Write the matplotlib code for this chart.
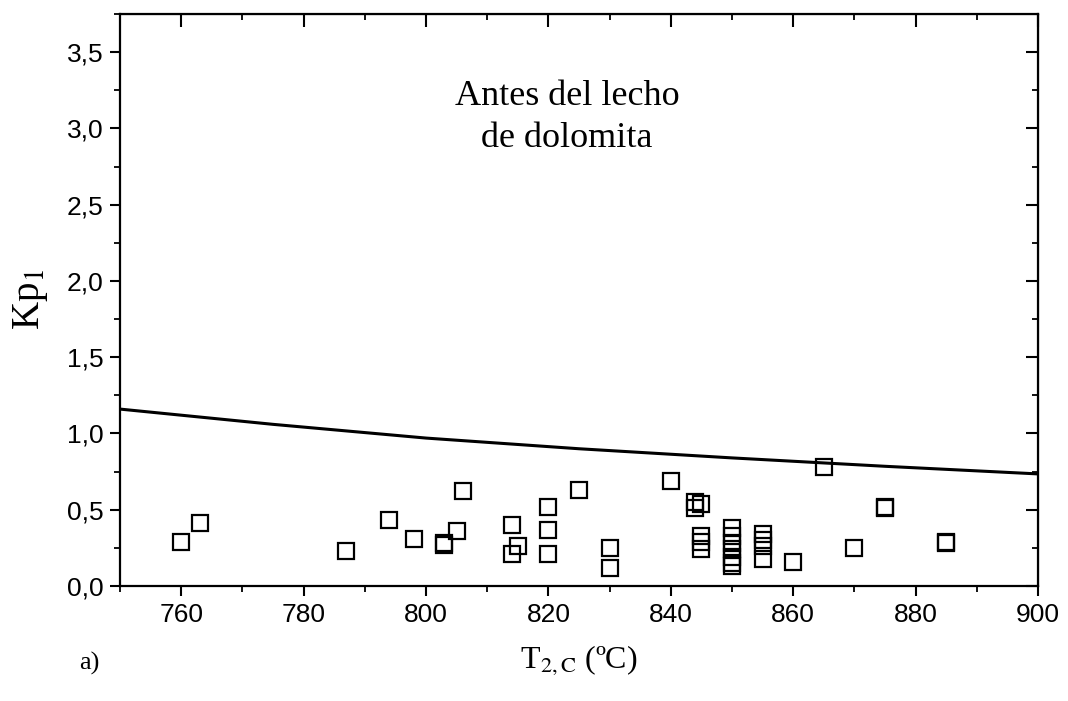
import matplotlib
matplotlib.use('Agg')
import matplotlib.pyplot as plt
from matplotlib.ticker import MultipleLocator, FuncFormatter

# equilibrium curve
curve_t = [750, 775, 800, 825, 850, 875, 900]
curve_kp = [1.16, 1.06, 0.97, 0.90, 0.84, 0.785, 0.735]

# experimental points
t_exp = [760, 763, 787, 794, 798, 803, 803, 805, 806,
         814, 815, 814, 820, 820, 820, 825, 830, 830, 840,
         844, 845, 844,
         845, 845, 845,
         850, 850, 850, 850, 850, 850, 850,
         855, 855, 855, 855,
         860, 865, 870, 875, 875, 885, 885]
kp_exp = [0.29, 0.41, 0.23, 0.43, 0.31, 0.27, 0.28, 0.36, 0.62,
          0.40, 0.26, 0.21, 0.52, 0.37, 0.21, 0.63, 0.25, 0.12, 0.69,
          0.51, 0.54, 0.55,
          0.33, 0.29, 0.24,
          0.38, 0.33, 0.28, 0.24, 0.19, 0.15, 0.13,
          0.34, 0.30, 0.26, 0.18,
          0.155, 0.78, 0.25, 0.51, 0.52, 0.28, 0.29]

plt.rcParams['mathtext.fontset'] = 'stix'

fig = plt.figure(figsize=(10.68, 7.01), dpi=100)
ax = fig.add_axes([0.1124, 0.164, 0.8596, 0.816])

ax.plot(curve_t, curve_kp, color='black', lw=2.2)
ax.plot(t_exp, kp_exp, linestyle='none', marker='s', ms=11,
        mfc='none', mec='black', mew=1.6)

ax.set_xlim(750, 900)
ax.set_ylim(0, 3.75)
ax.xaxis.set_major_locator(MultipleLocator(20))
ax.xaxis.set_minor_locator(MultipleLocator(10))
ax.yaxis.set_major_locator(MultipleLocator(0.5))
ax.yaxis.set_minor_locator(MultipleLocator(0.25))
ax.set_xticks(range(760, 901, 20))
ax.yaxis.set_major_formatter(FuncFormatter(lambda v, p: f'{v:.1f}'.replace('.', ',')))

for s in ax.spines.values():
    s.set_linewidth(1.6)

ax.tick_params(which='major', direction='out', length=7, width=1.5,
               labelsize=19, pad=5)
ax.tick_params(which='minor', direction='out', length=4, width=1.3)
for lab in ax.get_xticklabels() + ax.get_yticklabels():
    lab.set_family('Liberation Sans')

# inward ticks on top and right
axt = ax.secondary_xaxis('top')
axt.set_xticks(range(760, 901, 20))
axt.xaxis.set_minor_locator(MultipleLocator(10))
axt.tick_params(which='major', direction='in', length=9, width=1.5, labeltop=False)
axt.tick_params(which='minor', direction='in', length=4, width=1.3)
axr = ax.secondary_yaxis('right')
axr.yaxis.set_major_locator(MultipleLocator(0.5))
axr.yaxis.set_minor_locator(MultipleLocator(0.25))
axr.tick_params(which='major', direction='in', length=9, width=1.5, labelright=False)
axr.tick_params(which='minor', direction='in', length=4, width=1.3)

serif = 'Liberation Serif'
ax.set_ylabel('Kp$_1$', fontsize=28, family=serif, labelpad=12)
ax.set_xlabel(r'T$_{2,\mathrm{C}}$ (ºC)', fontsize=23, family=serif, labelpad=12)

ax.text(0.487, 0.885, 'Antes del lecho\nde dolomita', transform=ax.transAxes,
        ha='center', va='top', fontsize=26, family=serif, linespacing=1.35)
fig.text(0.074, 0.045, 'a)', fontsize=19, family=serif)

fig.savefig('out.png', dpi=100)
